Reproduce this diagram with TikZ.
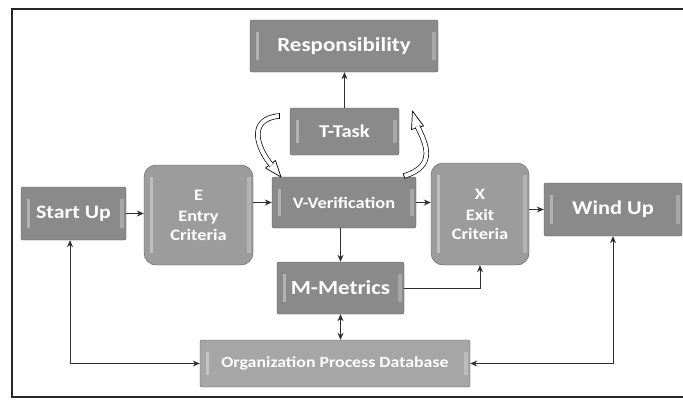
\documentclass[tikz,border=0pt]{standalone}
\usepackage{fontspec}
\setmainfont{Carlito}[FakeStretch=1.15]
\usetikzlibrary{arrows.meta}
\definecolor{boxgray}{HTML}{8A8A8A}
\definecolor{roundgray}{HTML}{9C9C9C}
\definecolor{dbgray}{HTML}{A6A6A6}
\definecolor{linegray}{HTML}{2E2E2E}
\tikzset{
  bevel/.style={path picture={
    \fill[white,opacity=0.35,sharp corners] ([xshift=6pt,yshift=-12pt]path picture bounding box.north west) rectangle ([xshift=8.5pt,yshift=12pt]path picture bounding box.south west);
    \fill[white,opacity=0.25,sharp corners] ([xshift=-6pt,yshift=-12pt]path picture bounding box.north east) rectangle ([xshift=-2pt,yshift=12pt]path picture bounding box.south east);
  }},
  procbox/.style={bevel, fill=boxgray, draw=gray!70!black, line width=0.4pt, rounded corners=2pt,
    text=white, font=\bfseries, align=center, inner sep=2pt},
  critbox/.style={procbox, fill=roundgray, rounded corners=12pt},
  dbbox/.style={procbox, fill=dbgray},
  conn/.style={draw=linegray, line width=0.9pt, -{Stealth[length=7pt,width=6pt]}},
  bconn/.style={draw=linegray, line width=0.9pt, {Stealth[length=7pt,width=6pt]}-{Stealth[length=7pt,width=6pt]}},
  cyc/.style={draw=black, line width=0.7pt, double=white, double distance=4pt},
  cychead/.style={draw=black, fill=white, line width=0.7pt, line join=round}
}
\begin{document}
\begin{tikzpicture}[x=1pt,y=-1pt]
\useasboundingbox (0,0) rectangle (683,400);
\fill[white] (0,0) rectangle (683,400);
\draw[line width=1.8pt, black!85] (12,9) rectangle (700,397);

\node[procbox, minimum width=188pt, minimum height=52pt, font=\bfseries\fontsize{20}{22}\selectfont] (resp) at (344,46) {Responsibility};
\node[procbox, minimum width=109pt, minimum height=47pt, font=\bfseries\fontsize{18}{20}\selectfont] (task) at (344.5,131.5) {T-Task};
\node[procbox, minimum width=105pt, minimum height=53pt, font=\bfseries\fontsize{19}{21}\selectfont] (start) at (73.5,213.5) {Start Up};
\node[critbox, minimum width=109pt, minimum height=100pt, font=\bfseries\fontsize{16}{19}\selectfont] (entry) at (198.5,215) {E\\[2pt]Entry\\Criteria};
\node[procbox, minimum width=144pt, minimum height=51pt, font=\bfseries\fontsize{16}{18}\selectfont] (ver) at (344,202.5) {V-Verification};
\node[critbox, minimum width=98pt, minimum height=102pt, font=\bfseries\fontsize{16}{19}\selectfont] (exit) at (480,214) {X\\[2pt]Exit\\Criteria};
\node[procbox, minimum width=138pt, minimum height=53pt, font=\bfseries\fontsize{19.5}{21}\selectfont] (wind) at (613,209.5) {Wind Up};
\node[procbox, minimum width=127pt, minimum height=52pt, font=\bfseries\fontsize{20}{22}\selectfont] (met) at (340.5,288) {M-Metrics};
\node[dbbox, minimum width=270pt, minimum height=47pt, font=\bfseries\fontsize{15.5}{17}\selectfont] (db) at (335,363.5) {Organization Process Database};

% straight connectors
\draw[conn] (task.north) -- (task.north |- resp.south);
\draw[conn] (start.east) -- (entry.west |- start.east);
\draw[conn] (entry.east |- ver.west) -- (ver.west);
\draw[conn] (ver.east) -- (exit.west |- ver.east);
\draw[conn] (exit.east |- wind.west) -- (wind.west);
\draw[conn] (ver.south -| met.north) -- (met.north);
\draw[conn] (met.east) -| (exit.south);
\draw[bconn] (met.south) -- (met.south |- db.north);
\draw[bconn] ([xshift=-3.5pt]start.south) |- (db.west);
\draw[bconn] (wind.south) |- (db.east);

% cycle arrows around T-Task
\draw[cychead] (281,177) -- (265.5,168) -- (275.5,160.5) -- cycle;
\draw[cyc] (279,116) .. controls (247,119) and (257,148) .. (271.5,165.3);
\draw[black, line width=0.7pt] (279,113.2) -- (279,118.8);

\draw[cychead] (412.5,111) -- (423.5,126) -- (411.5,129.5) -- cycle;
\draw[cyc] (404,176) .. controls (437,166) and (426,144) .. (417.5,126.5);
\draw[black, line width=0.7pt] (405,178.6) -- (403,173.4);
\end{tikzpicture}
\end{document}
